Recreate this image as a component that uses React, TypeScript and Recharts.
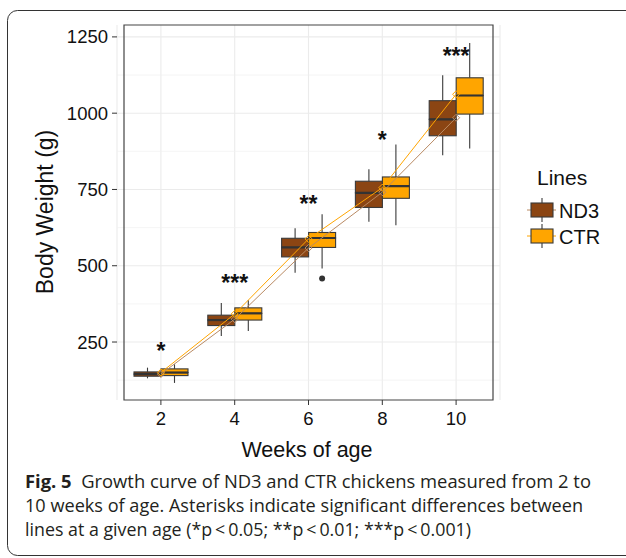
import React from 'react';
import { ComposedChart, Bar, Line, XAxis, YAxis, CartesianGrid, ReferenceArea } from 'recharts';

const weeks = ['2', '4', '6', '8', '10'];
const nd3Min = [131, 270, 477, 644, 862];
const nd3Q1 = [138, 304, 529, 691, 926];
const nd3Median = [145, 322, 560, 739, 980];
const nd3Q3 = [152, 338, 590, 777, 1041];
const nd3Max = [166, 378, 623, 816, 1124];
const nd3Mean = [145, 325, 558, 741, 985];
const nd3Outlier: (number | null)[] = [null, null, null, null, null];
const ctrMin = [116, 286, 491, 633, 884];
const ctrQ1 = [140, 322, 560, 721, 997];
const ctrMedian = [150, 344, 591, 761, 1058];
const ctrQ3 = [162, 362, 609, 791, 1116];
const ctrMax = [177, 387, 669, 897, 1230];
const ctrMean = [150, 342, 588, 756, 1062];
const ctrOutlier: (number | null)[] = [null, null, 458, null, null];
const stars = ['*', '***', '**', '*', '***'];
const starY = [233, 456, 715, 925, 1200];
const yTicks = [250, 500, 750, 1000, 1250];
const yMinor = [125, 375, 625, 875, 1125];
const yDomain = [60, 1289];

const ND3_FILL = '#8B4513';
const CTR_FILL = '#FFA500';
const ND3_LINE = '#B98A63';
const CTR_LINE = '#FFA500';
const EDGE = '#3a3a3a';
const FONT = '"Liberation Sans", Arial, Helvetica, sans-serif';

const data = weeks.map((w, i) => {
  const nLo = nd3Outlier[i] ?? nd3Min[i];
  const cLo = ctrOutlier[i] ?? ctrMin[i];
  return {
    week: w,
    nd3Base: nLo,
    nd3Out: nd3Min[i] - nLo,
    nd3WLo: nd3Q1[i] - nd3Min[i],
    nd3BLo: nd3Median[i] - nd3Q1[i],
    nd3BHi: nd3Q3[i] - nd3Median[i],
    nd3WHi: nd3Max[i] - nd3Q3[i],
    nd3HasOut: nd3Outlier[i] != null,
    ctrBase: cLo,
    ctrOut: ctrMin[i] - cLo,
    ctrWLo: ctrQ1[i] - ctrMin[i],
    ctrBLo: ctrMedian[i] - ctrQ1[i],
    ctrBHi: ctrQ3[i] - ctrMedian[i],
    ctrWHi: ctrMax[i] - ctrQ3[i],
    ctrHasOut: ctrOutlier[i] != null,
    nd3Mean: nd3Mean[i],
    ctrMean: ctrMean[i],
    star: stars[i],
    starY: starY[i],
  };
});

const BlankShape = () => <g />;

const makeOutShape = (flag: string) => (props: any) => {
  const { x, y, width, height, payload } = props;
  if (!payload || !payload[flag]) return <g />;
  return <circle cx={x + width / 2} cy={y + height} r={3} fill="#333" />;
};

const WhiskerShape = (props: any) => {
  const { x, y, width, height } = props;
  return (
    <line x1={x + width / 2} x2={x + width / 2} y1={y} y2={y + height} stroke={EDGE} strokeWidth={1.1} />
  );
};

const makeBoxLo = (fill: string) => (props: any) => {
  const { x, y, width, height } = props;
  return <rect x={x} y={y} width={width} height={height} fill={fill} stroke={EDGE} strokeWidth={1.1} />;
};

const makeBoxHi = (fill: string) => (props: any) => {
  const { x, y, width, height } = props;
  return (
    <g>
      <rect x={x} y={y} width={width} height={height} fill={fill} stroke={EDGE} strokeWidth={1.1} />
      <line x1={x} x2={x + width} y1={y + height} y2={y + height} stroke="#333" strokeWidth={2.2} />
    </g>
  );
};

const makeDiamond = (color: string) => (props: any) => {
  const { cx, cy } = props;
  if (cx == null || cy == null) return <g />;
  const r = 3.5;
  return (
    <path
      d={`M${cx},${cy - r}L${cx + r},${cy}L${cx},${cy + r}L${cx - r},${cy}Z`}
      fill="none"
      stroke={color}
      strokeWidth={1}
    />
  );
};

const StarDot = (props: any) => {
  const { cx, cy, payload } = props;
  if (cx == null || cy == null) return <g />;
  return (
    <text x={cx} y={cy + 12} textAnchor="middle" fontSize={23} fontWeight="bold" fontFamily={FONT} fill="#111">
      {payload.star}
    </text>
  );
};

const tickStyle = { fontSize: 18.5, fill: '#111', fontFamily: FONT };

export default function App() {
  return (
    <div style={{ position: 'absolute', left: 0, top: 0, width: 626, height: 558, background: '#fff', overflow: 'hidden' }}>
      <ComposedChart
        width={626}
        height={558}
        data={data}
        margin={{ top: 25, right: 126, bottom: 0, left: 0 }}
        barGap={0}
        barSize={27}
      >
        <CartesianGrid stroke="#EBEBEB" strokeWidth={1.1} horizontalValues={yTicks} vertical={true} />
        <CartesianGrid stroke="#F0F0F0" strokeWidth={0.7} horizontalValues={yMinor} vertical={false} />
        <XAxis
          dataKey="week"
          type="category"
          height={158}
          padding={{ left: 7, right: 7 }}
          tick={tickStyle}
          tickSize={5}
          tickMargin={7}
          tickLine={{ stroke: '#333' }}
          axisLine={false}
          interval={0}
        />
        <YAxis
          type="number"
          width={117}
          domain={yDomain}
          ticks={yTicks}
          allowDataOverflow={true}
          tick={tickStyle}
          tickSize={5}
          tickMargin={4}
          tickLine={{ stroke: '#333' }}
          axisLine={false}
        />
        <Bar dataKey="nd3Base" stackId="nd3" fill="none" shape={BlankShape} isAnimationActive={false} />
        <Bar dataKey="nd3Out" stackId="nd3" shape={makeOutShape('nd3HasOut')} isAnimationActive={false} />
        <Bar dataKey="nd3WLo" stackId="nd3" shape={WhiskerShape} isAnimationActive={false} />
        <Bar dataKey="nd3BLo" stackId="nd3" shape={makeBoxLo(ND3_FILL)} isAnimationActive={false} />
        <Bar dataKey="nd3BHi" stackId="nd3" shape={makeBoxHi(ND3_FILL)} isAnimationActive={false} />
        <Bar dataKey="nd3WHi" stackId="nd3" shape={WhiskerShape} isAnimationActive={false} />
        <Bar dataKey="ctrBase" stackId="ctr" fill="none" shape={BlankShape} isAnimationActive={false} />
        <Bar dataKey="ctrOut" stackId="ctr" shape={makeOutShape('ctrHasOut')} isAnimationActive={false} />
        <Bar dataKey="ctrWLo" stackId="ctr" shape={WhiskerShape} isAnimationActive={false} />
        <Bar dataKey="ctrBLo" stackId="ctr" shape={makeBoxLo(CTR_FILL)} isAnimationActive={false} />
        <Bar dataKey="ctrBHi" stackId="ctr" shape={makeBoxHi(CTR_FILL)} isAnimationActive={false} />
        <Bar dataKey="ctrWHi" stackId="ctr" shape={WhiskerShape} isAnimationActive={false} />
        <Line dataKey="nd3Mean" stroke={ND3_LINE} strokeWidth={1} dot={makeDiamond(ND3_LINE)} activeDot={false} isAnimationActive={false} />
        <Line dataKey="ctrMean" stroke={CTR_LINE} strokeWidth={1} dot={makeDiamond(CTR_LINE)} activeDot={false} isAnimationActive={false} />
        <Line dataKey="starY" stroke="none" dot={StarDot} activeDot={false} isAnimationActive={false} />
        <ReferenceArea y1={yDomain[0]} y2={yDomain[1]} fill="none" stroke="#444" strokeWidth={1.2} ifOverflow="visible" />
      </ComposedChart>
      <svg style={{ position: 'absolute', left: 0, top: 0, pointerEvents: 'none' }} width={626} height={558}>
        <rect x={7.5} y={10.5} width={650} height={545} rx={10} ry={10} fill="none" stroke="#333" strokeWidth={1} />
        <text x={307} y={457} textAnchor="middle" fontSize={21.5} fontFamily={FONT} fill="#111">Weeks of age</text>
        <text
          transform="translate(53,212) rotate(-90)"
          textAnchor="middle"
          fontSize={23}
          fontFamily={FONT}
          fill="#111"
        >
          Body Weight (g)
        </text>
        <text x={537} y={185} fontSize={21} fontFamily={FONT} fill="#111">Lines</text>
        <g>
          <line x1={527} x2={556} y1={210} y2={210} stroke={ND3_LINE} strokeWidth={1} />
          <line x1={542} x2={542} y1={198} y2={222} stroke={EDGE} strokeWidth={1.1} />
          <rect x={531} y={203} width={22} height={14} fill={ND3_FILL} stroke={EDGE} strokeWidth={1.1} />
          <text x={559} y={217.5} fontSize={20} fontFamily={FONT} fill="#111">ND3</text>
        </g>
        <g>
          <line x1={527} x2={556} y1={236} y2={236} stroke={CTR_LINE} strokeWidth={1} />
          <line x1={542} x2={542} y1={224} y2={248} stroke={EDGE} strokeWidth={1.1} />
          <rect x={531} y={229} width={22} height={14} fill={CTR_FILL} stroke={EDGE} strokeWidth={1.1} />
          <text x={559} y={243.5} fontSize={20} fontFamily={FONT} fill="#111">CTR</text>
        </g>
        <g fontFamily='"Open Sans", "Noto Sans", sans-serif' fontSize={18} fill="#231f20">
          <text x={25} y={488} textLength={566} lengthAdjust="spacingAndGlyphs">
            <tspan fontWeight="bold">Fig. 5</tspan>
            <tspan>{'\u00a0\u00a0Growth curve of ND3 and CTR chickens measured from 2 to'}</tspan>
          </text>
          <text x={25} y={512} textLength={558} lengthAdjust="spacingAndGlyphs">
            10 weeks of age. Asterisks indicate significant differences between
          </text>
          <text x={25} y={536} textLength={446} lengthAdjust="spacingAndGlyphs">
            {'lines at a given age (*p\u2009<\u20090.05; **p\u2009<\u20090.01; ***p\u2009<\u20090.001)'}
          </text>
        </g>
      </svg>
    </div>
  );
}
